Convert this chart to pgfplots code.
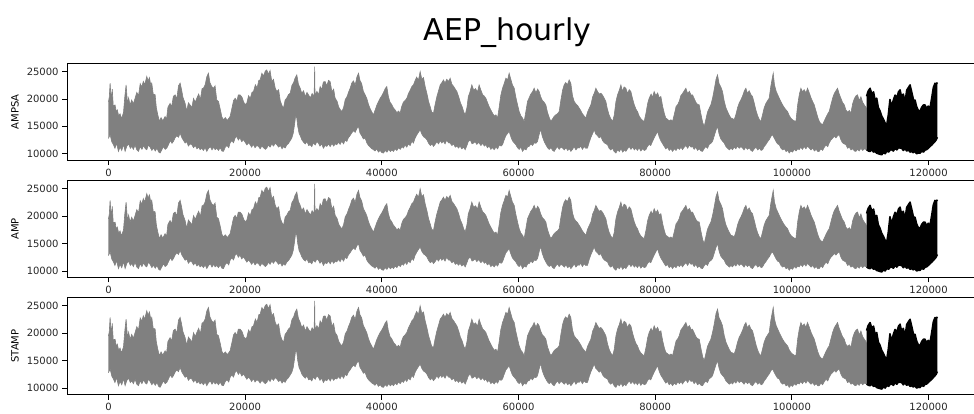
\documentclass[border=0pt]{standalone}
\usepackage{fontspec}
\setmainfont{DejaVu Sans}
\usepackage{pgfplots}
\pgfplotsset{compat=1.18}
\usepackage{pgfplotstable}
\usepgfplotslibrary{fillbetween}

\pgfplotstableread{
x y
0 19500
120 20300
244 22900
400 19800
560 21800
700 18800
975 18900
1150 17600
1300 18000
1500 16900
1700 17300
1900 16400
2200 17500
2400 20500
2585 22570
2800 19000
2950 20200
3170 18900
3400 19800
3650 19100
3900 20140
4150 21200
4400 20600
4650 22800
4880 22200
5100 23200
5300 22600
5610 24100
5800 23300
6000 23900
6200 22500
6340 22900
6550 20900
6830 20800
7000 18500
7200 17200
7460 15900
7700 16600
7950 16000
8290 16800
8500 16300
8700 18500
9020 19200
9250 18600
9500 20500
9760 20750
10000 20000
10250 22400
10490 22900
10700 21700
10900 20300
11220 19200
11450 17800
11700 19300
11950 18900
12200 18400
12450 20100
12700 19400
12930 20140
13200 20900
13450 19900
13700 21900
13900 21960
14150 22600
14400 24100
14630 24700
14850 23000
15100 22300
15370 21960
15600 22400
15850 19800
16100 19540
16350 18200
16600 16700
16830 16200
17100 16600
17400 16100
17800 16800
18100 18500
18300 19700
18540 20140
18800 19600
19000 20750
19270 20750
19550 20300
19800 19400
20000 19000
20240 19230
20500 20600
20750 20100
21000 21200
21220 21360
21500 22600
21750 22000
22000 23400
22200 23480
22450 24700
22700 24200
22950 25100
23170 25300
23400 24500
23650 25200
23900 23180
24150 23600
24400 22000
24630 21360
24900 21700
25150 19600
25400 18800
25610 18300
25850 19800
26100 20200
26350 20800
26590 21050
26850 22500
27100 23000
27300 23800
27560 24400
27800 22700
28050 22000
28290 21050
28550 21500
28800 20400
29050 21200
29270 20750
29550 20200
29800 21000
30100 20500
30170 25900
30230 20600
30500 21400
30750 20800
30980 22270
31200 21700
31450 23100
31700 23180
31950 22400
32200 23400
32440 23180
32700 21300
32950 21800
33170 20140
33450 19600
33700 18500
33950 18000
34150 17700
34400 18400
34650 19900
34900 20400
35150 21300
35370 21960
35600 22900
35850 23300
36100 22500
36350 24000
36590 24700
36800 23400
37050 22800
37300 21400
37560 20750
37800 20100
38050 19000
38300 18200
38550 17600
38780 17110
39000 17900
39250 18800
39500 19500
39760 20140
40000 20600
40250 21200
40500 21900
40730 22270
40950 20500
41200 19400
41450 19000
41710 18330
41950 18000
42200 17500
42450 17800
42680 17400
42900 18600
43150 19400
43400 19700
43660 20140
43900 21000
44150 21600
44400 22300
44630 22570
44850 23300
45100 24000
45350 23400
45610 25000
45850 23600
46100 23900
46340 22270
46600 21000
46850 19500
47100 18500
47300 17600
47560 17400
47800 19000
48050 20400
48300 21500
48550 22600
48800 23000
49020 23480
49250 22900
49500 23600
49750 23200
50000 23790
50250 22700
50500 22300
50750 21800
50980 21360
51250 20400
51500 19300
51750 18600
52000 17600
52200 17110
52450 18400
52650 20400
52900 21300
53170 22570
53450 21600
53700 21900
54000 21300
54240 22570
54500 21600
54750 20800
55000 20500
55220 20140
55450 19400
55700 18600
55950 18000
56200 17400
56450 16900
56700 17100
56930 16500
57150 18300
57400 20600
57660 21960
57900 22800
58150 23800
58400 23500
58630 24700
58850 23700
59100 22600
59370 21960
59600 20400
59850 19000
60100 17700
60350 16900
60600 16500
60830 15900
61100 17900
61320 19540
61550 20200
61800 20900
62050 21300
62290 21960
62550 21100
62800 21800
63020 21360
63250 20400
63500 19700
63750 19400
64000 18930
64250 17500
64500 16600
64730 15900
64950 16300
65200 16800
65450 17100
65700 17300
65950 17700
66200 19800
66450 21600
66680 22570
66900 23000
67150 22600
67410 23480
67650 22900
67900 20600
68150 19540
68400 19100
68650 18800
68880 18330
69100 17900
69350 17300
69600 16900
69850 16500
70100 17600
70350 18300
70590 18930
70850 20400
71100 21100
71320 21960
71550 21400
71800 20900
72050 21050
72300 20700
72550 20100
72780 19540
73000 18200
73250 17100
73500 16400
73760 15900
74000 17000
74250 19500
74500 20800
74750 21600
74980 22570
75200 21400
75450 22200
75710 21960
75950 21000
76200 21700
76440 21360
76700 20000
76950 18900
77200 18100
77410 17700
77650 16900
77900 16400
78150 16100
78390 15900
78650 17400
78900 19200
79120 20140
79400 20900
79600 20300
79850 21360
80100 20600
80350 21100
80600 20200
80830 20450
81100 18600
81350 17300
81560 16500
81800 16300
82050 16000
82300 16200
82540 15900
82800 17200
83050 18600
83300 19000
83510 19540
83750 20600
84000 21000
84250 21500
84490 21960
84750 21000
85000 21400
85250 20700
85460 20750
85700 20100
85950 19400
86200 19000
86440 18930
86700 17200
86950 15700
87170 15000
87400 16200
87650 17600
87900 18300
88150 18930
88400 20200
88650 21800
88900 23600
89120 24400
89350 22800
89600 22200
89850 21360
90100 19600
90350 18400
90590 17700
90850 17000
91100 16500
91350 16400
91560 16200
91800 17100
92050 18400
92300 19300
92540 19840
92800 20600
93050 21500
93270 21960
93500 21000
93750 21500
94000 20800
94240 20450
94500 19200
94750 17900
95000 16900
95250 16200
95460 15900
95700 17100
95950 18400
96200 19200
96450 19700
96680 20140
96900 22200
97100 23600
97270 24700
97450 22600
97700 21400
97950 20700
98150 20140
98400 19500
98650 18900
98900 18400
99150 18000
99370 17700
99600 17000
99850 16500
100100 16200
100350 16000
100590 15900
100850 19000
101100 20900
101320 21960
101550 21300
101800 21700
102050 21100
102290 21960
102550 21100
102800 20200
103050 19500
103270 18930
103550 17700
103800 16600
104050 15800
104250 15500
104490 15300
104750 16000
105000 16700
105250 17300
105460 17700
105700 18900
105950 20100
106200 21000
106450 21500
106680 21960
106900 21000
107150 20200
107400 19400
107660 18930
107900 18000
108150 17600
108400 17900
108630 17400
108900 19200
109150 20100
109400 20600
109610 20750
109850 19700
110100 20400
110350 19400
110600 18900
110930 18330
}\grayupper

\pgfplotstableread{
x y
0 12800
250 13500
480 12200
730 11650
950 11000
1200 11900
1460 10430
1700 11200
1950 10600
2200 11700
2440 10430
2700 11400
2950 11800
3200 11000
3410 11340
3650 10800
3900 11600
4150 10700
4390 10430
4650 11300
4900 10800
5150 11500
5400 10900
5610 10740
5850 11600
6100 11200
6350 10600
6590 11040
6850 10500
7100 11000
7350 10300
7560 10130
7800 10700
8050 11300
8300 10800
8540 11040
8800 11700
9050 12400
9300 11900
9510 12250
9750 12900
10000 13300
10250 13000
10490 13770
10750 12900
11000 12400
11220 11950
11450 12200
11700 11400
11950 11800
12200 11650
12450 11100
12700 11500
12950 10900
13200 11200
13410 10740
13650 11000
13900 10600
14150 11100
14390 10430
14650 11000
14900 11300
15150 10700
15400 11200
15610 10740
15850 11000
16100 10600
16350 11100
16600 10500
16830 10430
17100 11200
17350 11500
17600 11100
17800 11950
18050 12400
18300 12000
18550 12900
18780 13160
19000 12500
19250 12900
19500 12200
19760 12560
20000 12100
20250 11600
20500 12000
20730 11650
20950 11200
21200 11700
21450 11100
21700 11500
21950 11340
22200 10900
22450 11400
22700 11100
22950 10800
23170 11040
23400 11600
23650 11200
23900 11800
24150 11400
24400 11900
24630 11650
24900 11200
25150 11500
25400 10900
25600 11300
25850 11040
26100 11600
26350 11900
26600 12400
26830 12860
27050 13800
27250 15500
27400 17000
27560 16500
27700 15000
27900 13700
28100 13200
28290 12560
28550 12100
28800 11800
29050 12200
29300 11500
29510 11650
29750 11300
30000 12000
30250 11600
30500 12200
30730 11950
30950 11400
31200 11800
31450 11000
31700 11500
31950 11340
32200 11800
32450 11300
32700 11900
32950 11400
33200 11800
33410 11650
33650 12100
33900 11700
34150 12300
34400 11800
34650 12500
34880 12250
35100 12900
35350 13300
35600 13800
35850 14200
36100 13900
36350 14600
36590 14990
36800 13800
37050 13300
37300 12700
37560 12860
37800 12000
38050 11500
38300 11200
38550 10900
38780 10740
39000 10500
39250 10900
39500 10300
39750 10600
40000 10200
40240 10130
40500 10600
40750 10300
41000 10800
41250 10400
41500 10700
41710 10430
41950 10900
42200 10600
42450 11100
42700 10800
42950 11300
43170 11040
43400 11600
43650 11200
43900 11800
44150 11500
44400 12300
44630 11950
44850 12800
45100 13400
45350 13900
45610 14380
45850 13600
46100 13100
46350 12900
46590 12560
46850 11900
47100 11500
47350 11800
47560 11340
47800 11700
48050 12200
48300 11800
48550 12400
48780 11950
49000 12300
49250 11800
49500 12500
49750 12000
50000 11950
50250 11500
50500 11800
50750 11200
51000 11400
51220 11040
51450 11400
51700 10900
51950 11200
52200 10740
52450 11500
52650 12200
52930 12560
53200 11800
53420 11950
53650 12200
53900 11700
54100 12000
54240 11950
54500 11500
54750 11900
55000 11400
55220 11650
55450 11100
55700 11400
55950 10800
56200 11100
56440 10740
56700 11200
56950 10900
57200 11600
57450 11400
57660 11650
57900 12500
58150 13300
58400 13700
58630 14080
58850 13200
59100 12400
59350 12000
59610 11650
59850 11100
60100 10800
60350 11200
60590 10430
60850 10900
61100 10700
61350 11300
61560 11340
61800 11800
62050 11500
62300 12000
62550 11900
62780 12250
63000 13400
63150 14100
63270 14380
63450 13300
63700 12400
63850 12000
64000 11650
64250 11100
64500 10800
64750 11100
65000 10600
65220 10430
65450 10900
65700 11300
65950 10800
66200 11200
66440 11040
66700 10700
66950 11100
67200 10600
67450 10900
67660 10430
67900 10800
68150 11300
68400 10700
68650 11100
68880 11040
69100 11400
69350 10800
69600 11300
69850 11000
70100 11040
70350 12100
70600 13000
70850 13700
71080 14380
71300 13600
71550 13300
71800 12900
72050 13160
72300 12400
72550 12000
72800 11800
73020 11650
73250 11000
73500 10700
73750 11000
74000 10400
74250 10130
74500 10700
74750 10400
75000 10900
75250 10300
75500 10700
75710 10430
75950 10900
76200 11300
76450 10800
76700 11200
76950 10700
77170 11040
77400 10600
77650 11100
77900 10500
78150 10900
78400 10600
78630 10740
78850 11300
79100 11700
79350 11500
79610 12250
79850 12900
80100 13500
80340 14080
80600 13000
80850 12300
81100 11800
81320 11340
81550 10900
81800 11200
82050 10600
82300 10900
82540 10430
82800 10900
83050 10600
83300 11100
83550 10800
83790 11200
83990 10740
84250 11200
84500 11500
84750 11000
85000 11600
85250 11200
85460 11340
85700 10800
85950 11200
86200 10600
86450 10900
86700 10500
86930 10430
87150 10900
87400 11300
87650 11000
87900 11700
88150 11900
88390 12250
88650 13300
88900 14300
89120 14990
89350 13600
89600 12700
89850 12300
90100 11950
90350 11300
90600 11000
90850 10700
91100 11000
91320 10740
91550 11200
91800 10900
92050 11400
92300 11000
92550 11300
92780 11040
93000 10700
93250 11200
93500 10800
93750 11100
94000 10600
94240 10430
94500 10900
94750 11200
95000 10700
95250 11000
95500 10600
95710 10740
95950 11300
96200 11700
96450 12200
96700 12600
96950 13200
97170 13470
97400 12900
97650 12300
97900 11800
98150 11650
98400 11000
98650 10700
98900 10900
99150 10400
99400 10600
99610 10130
99850 10500
100100 10300
100350 10800
100600 10500
100850 10900
101080 10740
101300 11200
101550 10800
101800 11300
102050 10900
102300 11400
102540 11040
102800 10700
103050 11000
103300 10500
103550 10800
103800 10400
104000 10430
104250 10900
104500 10600
104750 11200
105000 11600
105250 11300
105460 11950
105700 12500
105950 12800
106200 13200
106450 12900
106700 13300
106930 13470
107150 12600
107400 12000
107650 11800
107900 11650
108150 11000
108400 11200
108650 10700
108900 10900
109150 10500
109370 10430
109600 10800
109850 10500
110100 11000
110350 10600
110600 10900
110930 10740
}\graylower

\pgfplotstableread{
x y
110930 20500
111150 21400
111440 21960
111700 20900
111950 21300
112200 19600
112410 20140
112650 18400
112900 17800
113150 16860
113400 16300
113650 15600
113880 15280
114100 17000
114350 19900
114600 18600
114850 19830
115100 20700
115350 20200
115600 21300
115830 21650
116050 20400
116300 20900
116560 19500
116800 21600
117050 22100
117290 22560
117550 21200
117800 19800
118020 19800
118250 18600
118500 17900
118750 17780
119000 18500
119250 18900
119480 18900
119700 18300
119950 18700
120210 18300
120450 20100
120700 22100
120940 22870
121100 22700
121290 23000
}\blackupper

\pgfplotstableread{
x y
110930 10740
111200 10500
111440 10430
111700 10700
111950 10300
112150 10430
112400 10100
112650 10000
112900 9900
113150 9820
113400 10200
113650 10000
113900 10500
114150 10300
114400 10700
114580 10740
114850 10500
115100 11000
115350 10700
115600 11100
115830 11040
116050 11040
116300 10600
116550 10900
116800 10500
117050 10700
117300 10300
117510 10430
117750 10200
118000 10400
118250 10000
118490 10130
118750 10100
119000 10500
119250 10300
119500 10700
119710 10740
119950 11000
120200 11300
120500 11650
120750 12000
120940 12250
121100 12500
121290 13000
}\blacklower

\pgfplotsset{panel/.style={
  scale only axis, width=911.7pt, height=97.3pt,
  anchor=north west,
  xmin=-6064, xmax=127336, ymin=8800, ymax=26570,
  xtick={0,20000,40000,60000,80000,100000,120000},
  ytick={10000,15000,20000,25000},
  scaled ticks=false,
  /pgf/number format/fixed,
  /pgf/number format/1000 sep={},
  /pgf/number format/assume math mode=true,
  tick align=outside, xtick pos=left, ytick pos=left,
  major tick length=4.9pt,
  tick style={black, line width=0.8pt},
  axis line style={black, line width=0.8pt},
  ticklabel style={font=\fontsize{10}{12}\selectfont, text=black!85},
  ylabel style={at={(axis description cs:-0.057,0.5)}, anchor=center, font=\fontsize{10}{12}\selectfont},
}}

\newcommand{\drawseries}[1]{%
  \addplot[draw=gray, line width=0.6pt, name path=gu#1] table {\grayupper};
  \addplot[draw=gray, line width=0.6pt, name path=gl#1] table {\graylower};
  \addplot[fill=gray, draw=none] fill between[of=gu#1 and gl#1];
  \addplot[draw=black, line width=1.6pt, line join=round, name path=bu#1] table {\blackupper};
  \addplot[draw=black, line width=1.6pt, line join=round, name path=bl#1] table {\blacklower};
  \addplot[fill=black, draw=none] fill between[of=bu#1 and bl#1];
}

\begin{document}
\begin{tikzpicture}
\node[font=\fontsize{30}{36}\selectfont] at (507.5pt,-33pt) {AEP\_hourly};

\begin{axis}[panel, at={(67pt,-63pt)}, ylabel={AMPSA}]
\drawseries{a}
\end{axis}

\begin{axis}[panel, at={(67pt,-180.2pt)}, ylabel={AMP}]
\drawseries{b}
\end{axis}

\begin{axis}[panel, at={(67pt,-297.3pt)}, ylabel={STAMP}]
\drawseries{c}
\end{axis}

\pgfresetboundingbox
\path[use as bounding box] (0pt,0pt) rectangle (974pt,-414pt);
\end{tikzpicture}
\end{document}
